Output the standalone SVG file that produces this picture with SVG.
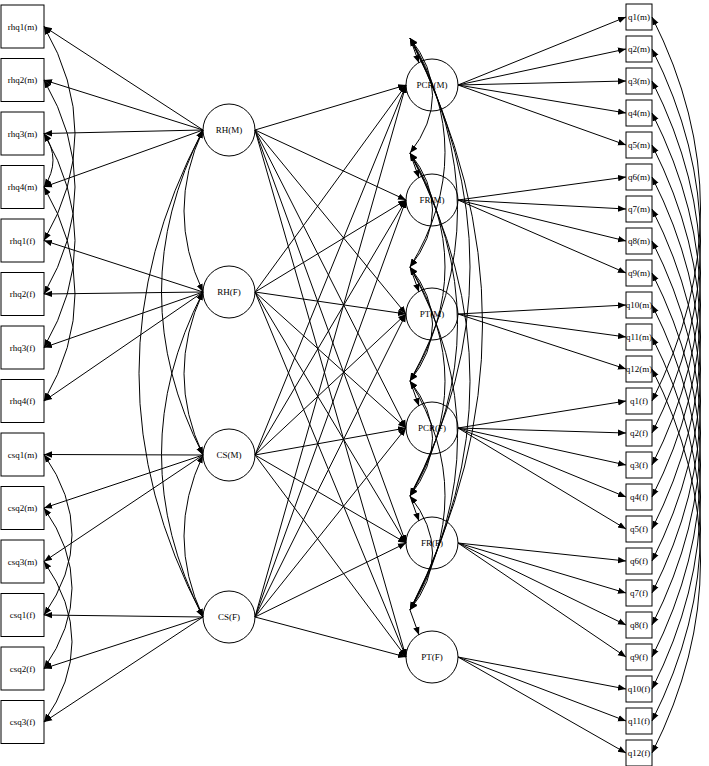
<svg xmlns="http://www.w3.org/2000/svg" width="709" height="766" viewBox="0 0 709 766">
<style>
text{font-family:"Liberation Serif",serif;font-size:9px;text-anchor:middle;dominant-baseline:central}
.n rect,.n circle{fill:none;stroke:#000;stroke-width:1}
#connectors path,#connectors line{fill:none;stroke:#000;stroke-width:1;marker-end:url(#ah)}
#connectors .bi{marker-start:url(#ah)}
</style>
<defs><marker id="ah" viewBox="0 0 10 10" refX="10" refY="5" markerWidth="8" markerHeight="8" markerUnits="userSpaceOnUse" orient="auto-start-reverse"><path d="M0,1L10,5L0,9z" fill="#000"/></marker></defs>
<rect width="709" height="766" fill="#fff"/>
<g id="connectors">
<line x1="203" y1="130" x2="44" y2="26.5"/><line x1="203" y1="130" x2="44" y2="80"/><line x1="203" y1="130" x2="44" y2="133.5"/><line x1="203" y1="130" x2="44" y2="187"/>
<line x1="203" y1="292" x2="44" y2="240.5"/><line x1="203" y1="292" x2="44" y2="294"/><line x1="203" y1="292" x2="44" y2="347.5"/><line x1="203" y1="292" x2="44" y2="401"/>
<line x1="203" y1="455" x2="44" y2="454.5"/><line x1="203" y1="455" x2="44" y2="508"/><line x1="203" y1="455" x2="44" y2="561.5"/>
<line x1="203" y1="617" x2="44" y2="615"/><line x1="203" y1="617" x2="44" y2="668.5"/><line x1="203" y1="617" x2="44" y2="722"/>
<path class="bi" d="M44,26.5Q106,133.5 44,240.5"/><path class="bi" d="M44,80Q106,187 44,294"/><path class="bi" d="M44,133.5Q106,240.5 44,347.5"/><path class="bi" d="M44,187Q106,294 44,401"/>
<path class="bi" d="M44,133.5Q62,160 44,187"/>
<path class="bi" d="M44,454.5Q100,535 44,615"/><path class="bi" d="M44,508Q100,588 44,668.5"/><path class="bi" d="M44,561.5Q100,642 44,722"/>
<path class="bi" d="M203,130Q165,211 203,292"/><path class="bi" d="M203,292Q165,374 203,455"/><path class="bi" d="M203,455Q165,536 203,617"/>
<path class="bi" d="M203,130Q120,292 203,455"/><path class="bi" d="M203,292Q120,454 203,617"/>
<path class="bi" d="M203,130Q75,373 203,617"/>
<line x1="255" y1="130" x2="406" y2="85"/><line x1="255" y1="130" x2="406" y2="200"/><line x1="255" y1="130" x2="406" y2="314"/><line x1="255" y1="130" x2="406" y2="428"/><line x1="255" y1="130" x2="406" y2="543"/><line x1="255" y1="130" x2="406" y2="657"/>
<line x1="255" y1="292" x2="406" y2="85"/><line x1="255" y1="292" x2="406" y2="200"/><line x1="255" y1="292" x2="406" y2="314"/><line x1="255" y1="292" x2="406" y2="428"/><line x1="255" y1="292" x2="406" y2="543"/><line x1="255" y1="292" x2="406" y2="657"/>
<line x1="255" y1="455" x2="406" y2="85"/><line x1="255" y1="455" x2="406" y2="200"/><line x1="255" y1="455" x2="406" y2="314"/><line x1="255" y1="455" x2="406" y2="428"/><line x1="255" y1="455" x2="406" y2="543"/><line x1="255" y1="455" x2="406" y2="657"/>
<line x1="255" y1="617" x2="406" y2="85"/><line x1="255" y1="617" x2="406" y2="200"/><line x1="255" y1="617" x2="406" y2="314"/><line x1="255" y1="617" x2="406" y2="428"/><line x1="255" y1="617" x2="406" y2="543"/><line x1="255" y1="617" x2="406" y2="657"/>
<line x1="410" y1="38" x2="419" y2="63"/><line x1="410" y1="153" x2="419" y2="178"/><line x1="410" y1="267" x2="419" y2="292"/><line x1="410" y1="381" x2="419" y2="406"/><line x1="410" y1="496" x2="419" y2="521"/><line x1="410" y1="610" x2="419" y2="635"/>
<path class="bi" d="M410,38Q455,95 410,153"/><path class="bi" d="M410,153Q455,210 410,267"/><path class="bi" d="M410,267Q455,324 410,381"/><path class="bi" d="M410,381Q455,438 410,496"/><path class="bi" d="M410,496Q455,553 410,610"/>
<path class="bi" d="M410,38Q480,152 410,267"/><path class="bi" d="M410,153Q480,267 410,381"/><path class="bi" d="M410,267Q480,381 410,496"/><path class="bi" d="M410,381Q480,496 410,610"/>
<path class="bi" d="M410,38Q505,210 410,381"/><path class="bi" d="M410,153Q505,324 410,496"/><path class="bi" d="M410,267Q505,438 410,610"/>
<path class="bi" d="M410,38Q530,267 410,496"/><path class="bi" d="M410,153Q530,381 410,610"/>
<path class="bi" d="M410,38Q555,324 410,610"/>
<line x1="458" y1="85" x2="626" y2="17"/><line x1="458" y1="85" x2="626" y2="49"/><line x1="458" y1="85" x2="626" y2="81"/><line x1="458" y1="85" x2="626" y2="113"/><line x1="458" y1="85" x2="626" y2="145"/>
<line x1="458" y1="200" x2="626" y2="177"/><line x1="458" y1="200" x2="626" y2="209"/><line x1="458" y1="200" x2="626" y2="241"/><line x1="458" y1="200" x2="626" y2="273"/>
<line x1="458" y1="314" x2="626" y2="305"/><line x1="458" y1="314" x2="626" y2="337"/><line x1="458" y1="314" x2="626" y2="369"/>
<line x1="458" y1="428" x2="626" y2="401"/><line x1="458" y1="428" x2="626" y2="433"/><line x1="458" y1="428" x2="626" y2="465"/><line x1="458" y1="428" x2="626" y2="497"/><line x1="458" y1="428" x2="626" y2="529"/>
<line x1="458" y1="543" x2="626" y2="561"/><line x1="458" y1="543" x2="626" y2="593"/><line x1="458" y1="543" x2="626" y2="625"/><line x1="458" y1="543" x2="626" y2="657"/>
<line x1="458" y1="657" x2="626" y2="689"/><line x1="458" y1="657" x2="626" y2="721"/><line x1="458" y1="657" x2="626" y2="753"/>
<path class="bi" d="M652,17Q749,209 652,401"/><path class="bi" d="M652,49Q749,241 652,433"/><path class="bi" d="M652,81Q749,273 652,465"/><path class="bi" d="M652,113Q749,305 652,497"/><path class="bi" d="M652,145Q749,337 652,529"/><path class="bi" d="M652,177Q749,369 652,561"/><path class="bi" d="M652,209Q749,401 652,593"/><path class="bi" d="M652,241Q749,433 652,625"/><path class="bi" d="M652,273Q749,465 652,657"/><path class="bi" d="M652,305Q749,497 652,689"/><path class="bi" d="M652,337Q749,529 652,721"/><path class="bi" d="M652,369Q749,561 652,753"/>
</g>
<g class="n" id="rhq1m"><rect x="1" y="5" width="43" height="43"/><text x="22.5" y="26.5">rhq1(m)</text></g>
<g class="n" id="rhq2m"><rect x="1" y="58.5" width="43" height="43"/><text x="22.5" y="80">rhq2(m)</text></g>
<g class="n" id="rhq3m"><rect x="1" y="112" width="43" height="43"/><text x="22.5" y="133.5">rhq3(m)</text></g>
<g class="n" id="rhq4m"><rect x="1" y="165.5" width="43" height="43"/><text x="22.5" y="187">rhq4(m)</text></g>
<g class="n" id="rhq1f"><rect x="1" y="219" width="43" height="43"/><text x="22.5" y="240.5">rhq1(f)</text></g>
<g class="n" id="rhq2f"><rect x="1" y="272.5" width="43" height="43"/><text x="22.5" y="294">rhq2(f)</text></g>
<g class="n" id="rhq3f"><rect x="1" y="326" width="43" height="43"/><text x="22.5" y="347.5">rhq3(f)</text></g>
<g class="n" id="rhq4f"><rect x="1" y="379.5" width="43" height="43"/><text x="22.5" y="401">rhq4(f)</text></g>
<g class="n" id="csq1m"><rect x="1" y="433" width="43" height="43"/><text x="22.5" y="454.5">csq1(m)</text></g>
<g class="n" id="csq2m"><rect x="1" y="486.5" width="43" height="43"/><text x="22.5" y="508">csq2(m)</text></g>
<g class="n" id="csq3m"><rect x="1" y="540" width="43" height="43"/><text x="22.5" y="561.5">csq3(m)</text></g>
<g class="n" id="csq1f"><rect x="1" y="593.5" width="43" height="43"/><text x="22.5" y="615">csq1(f)</text></g>
<g class="n" id="csq2f"><rect x="1" y="647" width="43" height="43"/><text x="22.5" y="668.5">csq2(f)</text></g>
<g class="n" id="csq3f"><rect x="1" y="700.5" width="43" height="43"/><text x="22.5" y="722">csq3(f)</text></g>
<g class="n" id="RHM"><circle cx="229" cy="130" r="26"/><text x="229" y="130">RH(M)</text></g>
<g class="n" id="RHF"><circle cx="229" cy="292" r="26"/><text x="229" y="292">RH(F)</text></g>
<g class="n" id="CSM"><circle cx="229" cy="455" r="26"/><text x="229" y="455">CS(M)</text></g>
<g class="n" id="CSF"><circle cx="229" cy="617" r="26"/><text x="229" y="617">CS(F)</text></g>
<g class="n" id="PCRM"><circle cx="432" cy="85" r="26"/><text x="432" y="85">PCR(M)</text></g>
<g class="n" id="FRM"><circle cx="432" cy="200" r="26"/><text x="432" y="200">FR(M)</text></g>
<g class="n" id="PTM"><circle cx="432" cy="314" r="26"/><text x="432" y="314">PT(M)</text></g>
<g class="n" id="PCRF"><circle cx="432" cy="428" r="26"/><text x="432" y="428">PCR(F)</text></g>
<g class="n" id="FRF"><circle cx="432" cy="543" r="26"/><text x="432" y="543">FR(F)</text></g>
<g class="n" id="PTF"><circle cx="432" cy="657" r="26"/><text x="432" y="657">PT(F)</text></g>
<g class="n" id="q1m"><rect x="626" y="4" width="26" height="26"/><text x="639" y="17">q1(m)</text></g>
<g class="n" id="q2m"><rect x="626" y="36" width="26" height="26"/><text x="639" y="49">q2(m)</text></g>
<g class="n" id="q3m"><rect x="626" y="68" width="26" height="26"/><text x="639" y="81">q3(m)</text></g>
<g class="n" id="q4m"><rect x="626" y="100" width="26" height="26"/><text x="639" y="113">q4(m)</text></g>
<g class="n" id="q5m"><rect x="626" y="132" width="26" height="26"/><text x="639" y="145">q5(m)</text></g>
<g class="n" id="q6m"><rect x="626" y="164" width="26" height="26"/><text x="639" y="177">q6(m)</text></g>
<g class="n" id="q7m"><rect x="626" y="196" width="26" height="26"/><text x="639" y="209">q7(m)</text></g>
<g class="n" id="q8m"><rect x="626" y="228" width="26" height="26"/><text x="639" y="241">q8(m)</text></g>
<g class="n" id="q9m"><rect x="626" y="260" width="26" height="26"/><text x="639" y="273">q9(m)</text></g>
<g class="n" id="q10m"><rect x="626" y="292" width="26" height="26"/><text x="639" y="305">q10(m)</text></g>
<g class="n" id="q11m"><rect x="626" y="324" width="26" height="26"/><text x="639" y="337">q11(m)</text></g>
<g class="n" id="q12m"><rect x="626" y="356" width="26" height="26"/><text x="639" y="369">q12(m)</text></g>
<g class="n" id="q1f"><rect x="626" y="388" width="26" height="26"/><text x="639" y="401">q1(f)</text></g>
<g class="n" id="q2f"><rect x="626" y="420" width="26" height="26"/><text x="639" y="433">q2(f)</text></g>
<g class="n" id="q3f"><rect x="626" y="452" width="26" height="26"/><text x="639" y="465">q3(f)</text></g>
<g class="n" id="q4f"><rect x="626" y="484" width="26" height="26"/><text x="639" y="497">q4(f)</text></g>
<g class="n" id="q5f"><rect x="626" y="516" width="26" height="26"/><text x="639" y="529">q5(f)</text></g>
<g class="n" id="q6f"><rect x="626" y="548" width="26" height="26"/><text x="639" y="561">q6(f)</text></g>
<g class="n" id="q7f"><rect x="626" y="580" width="26" height="26"/><text x="639" y="593">q7(f)</text></g>
<g class="n" id="q8f"><rect x="626" y="612" width="26" height="26"/><text x="639" y="625">q8(f)</text></g>
<g class="n" id="q9f"><rect x="626" y="644" width="26" height="26"/><text x="639" y="657">q9(f)</text></g>
<g class="n" id="q10f"><rect x="626" y="676" width="26" height="26"/><text x="639" y="689">q10(f)</text></g>
<g class="n" id="q11f"><rect x="626" y="708" width="26" height="26"/><text x="639" y="721">q11(f)</text></g>
<g class="n" id="q12f"><rect x="626" y="740" width="26" height="26"/><text x="639" y="753">q12(f)</text></g>
</svg>
